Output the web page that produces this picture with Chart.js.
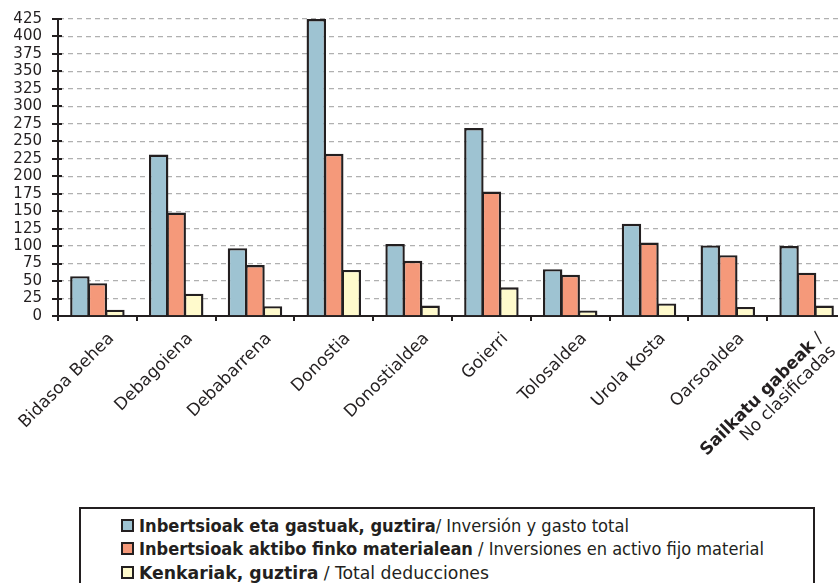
<!DOCTYPE html>
<html>
<head>
<meta charset="utf-8">
<script src="https://cdn.jsdelivr.net/npm/chart.js@4/dist/chart.umd.min.js"></script>
<style>
  html, body { margin:0; padding:0; background:#fff; }
  body { width:838px; height:583px; overflow:hidden; position:relative; }
  #wrap { position:absolute; left:0; top:0; width:860px; height:500px; }
  #legend { position:absolute; left:79px; top:507px; width:736px; height:100px;
            border:2px solid #231f20; box-sizing:border-box; }
  .row { position:absolute; left:40px; height:20px; white-space:nowrap;
         font-family:"Liberation Sans Narrow","DejaVu Sans Condensed","Liberation Sans",sans-serif;
         font-size:17px; color:#231f20; line-height:20px; }
  .sw { position:absolute; left:0; top:3px; width:13px; height:13px; box-sizing:border-box; border:2px solid #231f20; }
  .txt { position:absolute; left:18px; top:0; transform-origin:0 50%; }
  b { font-weight:bold; }
</style>
</head>
<body>
<div id="wrap"><canvas id="c" width="860" height="500"></canvas></div>
<div id="legend"></div>
<script>
// ---- data ----
const categories = ["Bidasoa Behea","Debagoiena","Debabarrena","Donostia","Donostialdea","Goierri","Tolosaldea","Urola Kosta","Oarsoaldea","Sailkatu gabeak / No clasificadas"];
const inversionTotal   = [57, 231, 97, 425, 103, 269, 67, 132, 101, 100];
const activoFijo       = [47, 148, 73, 232, 79, 178, 59, 105, 87, 62];
const deducciones      = [9, 32, 14, 66, 15, 41, 8, 18, 13, 15];
const yTicks = [0,25,50,75,100,125,150,175,200,225,250,275,300,325,350,375,400,425];
const seriesBold = ["Inbertsioak eta gastuak, guztira","Inbertsioak aktibo finko materialean","Kenkariak, guztira"];
const seriesRest = ["/ Inversión y gasto total"," / Inversiones en activo fijo material"," / Total deducciones"];
const colors = ["#9ec3d2","#f5997a","#fffacc"];

const DARK = "#231f20";
const seriesValues = [inversionTotal, activoFijo, deducciones];

const extras = {
  id: "extras",
  afterDraw(chart) {
    const ctx = chart.ctx, ca = chart.chartArea;
    const xs = chart.scales.x, ys = chart.scales.y;
    ctx.save();
    ctx.strokeStyle = DARK; ctx.lineWidth = 2;
    // y tick marks
    yTicks.forEach(v => {
      const y = Math.round(ys.getPixelForValue(v));
      ctx.beginPath(); ctx.moveTo(ca.left - 6, y); ctx.lineTo(ca.left + 4, y); ctx.stroke();
    });
    // x tick marks at category boundaries
    const w = xs.getPixelForValue(1) - xs.getPixelForValue(0);
    for (let i = 0; i <= categories.length; i++) {
      const x = Math.round(xs.getPixelForValue(0) - w/2 + i*w);
      ctx.beginPath(); ctx.moveTo(x, ca.bottom); ctx.lineTo(x, ca.bottom + 5); ctx.stroke();
    }
    // rotated x labels
    ctx.fillStyle = DARK;
    ctx.textBaseline = "top";
    const fam = "'DejaVu Sans', sans-serif";
    categories.forEach((lab, i) => {
      const cx = xs.getPixelForValue(i) + 8;
      const cy = ca.bottom + 14;
      ctx.save();
      ctx.translate(cx, cy);
      ctx.rotate(-Math.PI/4);
      if (lab.indexOf(" / ") >= 0) {
        const parts = lab.split(" / ");
        ctx.font = "17px " + fam;
        const tail = " /";
        const wt = ctx.measureText(tail).width;
        ctx.textAlign = "right";
        ctx.fillText(tail, 0, 0);
        ctx.font = "bold 17px " + fam;
        ctx.fillText(parts[0], -wt, 0);
        ctx.font = "17px " + fam;
        ctx.fillText(parts[1], 0, 18);
      } else {
        ctx.font = "17px " + fam;
        ctx.textAlign = "right";
        ctx.fillText(lab, 0, 0);
      }
      ctx.restore();
    });
    ctx.restore();
  }
};

new Chart(document.getElementById("c"), {
  type: "bar",
  data: {
    labels: categories,
    datasets: seriesValues.map((vals, k) => ({
      label: seriesBold[k] + seriesRest[k],
      data: vals,
      backgroundColor: colors[k],
      borderColor: DARK,
      borderWidth: 2.4,
      borderSkipped: "bottom",
      categoryPercentage: 0.667,
      barPercentage: 1.11
    }))
  },
  options: {
    responsive: false,
    animation: false,
    devicePixelRatio: 1,
    layout: { padding: { top: 19, right: 14, left: 0, bottom: 0 } },
    plugins: { legend: { display: false }, tooltip: { enabled: false } },
    scales: {
      x: {
        ticks: { display: false },
        grid: { display: false, drawTicks: false },
        border: { color: DARK, width: 2 },
        afterFit(s) { s.height = 184; s.paddingLeft = 0; s.paddingRight = 0; }
      },
      y: {
        min: 0, max: 425,
        afterBuildTicks(s) { s.ticks = yTicks.map(v => ({ value: v })); },
        ticks: { color: DARK, autoSkip: false, font: { family: "'DejaVu Sans', sans-serif", size: 15 }, padding: 16 },
        grid: { color: "#b0b0b0", lineWidth: 1.3, drawTicks: false },
        border: { color: DARK, width: 2, dash: [5, 4] },
        afterFit(s) { s.width = 58; s.paddingTop = 0; s.paddingBottom = 0; }
      }
    }
  },
  plugins: [extras]
});

// ---- legend (HTML text) ----
const legend = document.getElementById("legend");
const targetW = [490, 625, 350];
const rowTop = [7, 30, 54];
seriesBold.forEach((b, k) => {
  const row = document.createElement("div");
  row.className = "row";
  row.style.top = rowTop[k] + "px";
  const sw = document.createElement("div");
  sw.className = "sw"; sw.style.background = colors[k];
  const t = document.createElement("span");
  t.className = "txt";
  const bb = document.createElement("b"); bb.textContent = b;
  t.appendChild(bb);
  t.appendChild(document.createTextNode(seriesRest[k]));
  row.appendChild(sw); row.appendChild(t);
  legend.appendChild(row);
  const w = t.getBoundingClientRect().width;
  if (w > 0) t.style.transform = "scaleX(" + (targetW[k] / w) + ")";
});
</script>
</body>
</html>
